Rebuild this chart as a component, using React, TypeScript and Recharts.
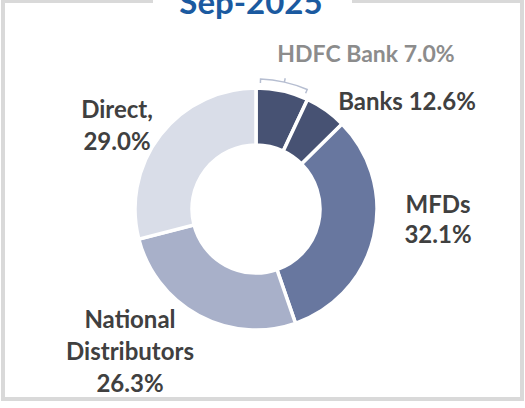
import React from 'react';
import { PieChart, Pie, Cell } from 'recharts';

// channel shares, Sep-2025 (HDFC Bank is split out of Banks)
const categories = ['HDFC Bank', 'Other Banks', 'MFDs', 'National Distributors', 'Direct'];
const shares = [7.0, 5.6, 32.1, 26.3, 29.0];
const labelLines = [
  ['HDFC Bank 7.0%'],
  ['Banks 12.6%'],
  ['MFDs', '32.1%'],
  ['National', 'Distributors', '26.3%'],
  ['Direct,', '29.0%'],
];

const COLORS = ['#475273', '#475273', '#68779f', '#a8b0c9', '#d9dde8'];
const FONT = 'Lato, "Open Sans", sans-serif';

// where each label sits, relative to the pie centre
const LABEL_POS = [
  { dx: 110, dy: -147, lh: 0, color: '#8c8c8c', size: 23 },
  { dx: 151, dy: -99, lh: 0, color: '#404040', size: 24 },
  { dx: 182, dy: 4, lh: 30, color: '#404040', size: 24 },
  { dx: -126, dy: 119, lh: 32, color: '#404040', size: 24 },
  { dx: -139, dy: -91, lh: 32, color: '#404040', size: 24 },
];

const data = categories.map((name, i) => ({ name, value: shares[i] }));

const RAD = Math.PI / 180;
const pt = (cx: number, cy: number, r: number, a: number) =>
  `${(cx + r * Math.cos(a * RAD)).toFixed(2)},${(cy - r * Math.sin(a * RAD)).toFixed(2)}`;

function renderLabel(props: any) {
  const { cx, cy, index, outerRadius, startAngle, endAngle } = props;
  const pos = LABEL_POS[index];
  const lines = labelLines[index];
  let bracket = null;
  if (index === 0) {
    // little bracket over the HDFC slice
    const R = outerRadius + 9;
    const a0 = startAngle - 2;
    const a1 = endAngle + 2;
    const am = (a0 + a1) / 2;
    const d =
      `M${pt(cx, cy, R - 4, a0)} L${pt(cx, cy, R, a0)} A${R},${R} 0 0 1 ${pt(cx, cy, R, am)} ` +
      `L${pt(cx, cy, R + 4, am)} M${pt(cx, cy, R, am)} A${R},${R} 0 0 1 ${pt(cx, cy, R, a1)} ` +
      `L${pt(cx, cy, R - 4, a1)}`;
    bracket = <path d={d} fill="none" stroke="#b6bed1" strokeWidth={1.5} />;
  }
  return (
    <g key={`lbl-${index}`}>
      {bracket}
      <text
        x={cx + pos.dx}
        y={cy + pos.dy}
        textAnchor="middle"
        fill={pos.color}
        fontFamily={FONT}
        fontWeight={700}
        fontSize={pos.size}
      >
        {lines.map((l, i) => (
          <tspan key={i} x={cx + pos.dx} dy={i === 0 ? 0 : pos.lh}>
            {l}
          </tspan>
        ))}
      </text>
    </g>
  );
}

export default function App() {
  return (
    <div style={{ position: 'absolute', left: 0, top: 0, width: 525, height: 408, background: '#fff', overflow: 'hidden' }}>
      <svg width={525} height={408} style={{ position: 'absolute', left: 0, top: 0 }}>
        <rect x={3} y={1} width={519} height={398} fill="none" stroke="#d9d9d9" strokeWidth={4} />
      </svg>
      <div style={{ position: 'absolute', left: 0, top: 0 }}>
        <PieChart width={525} height={408} margin={{ top: 0, right: 0, bottom: 0, left: 0 }}>
          <Pie
            data={data}
            dataKey="value"
            nameKey="name"
            cx={256}
            cy={209}
            innerRadius={64}
            outerRadius={121}
            startAngle={90}
            endAngle={-270}
            stroke="#ffffff"
            strokeWidth={3.5}
            label={renderLabel}
            labelLine={false}
            isAnimationActive={false}
          >
            {data.map((entry, index) => (
              <Cell key={`cell-${index}`} fill={COLORS[index]} />
            ))}
          </Pie>
        </PieChart>
      </div>
      <svg width={525} height={40} style={{ position: 'absolute', left: 0, top: 0 }}>
        <rect x={153} y={0} width={199} height={20} fill="#ffffff" />
        <text x={251} y={14} textAnchor="middle" fill="#1b5aa0" fontFamily={FONT} fontWeight={700} fontSize={33}>
          Sep-2025
        </text>
      </svg>
    </div>
  );
}
